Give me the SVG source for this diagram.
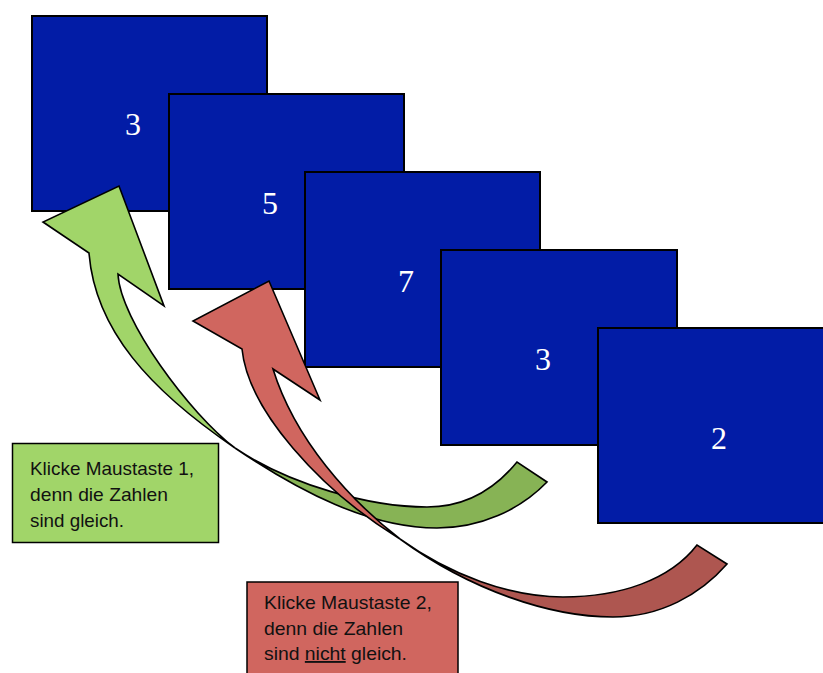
<svg xmlns="http://www.w3.org/2000/svg" width="823" height="673" viewBox="0 0 823 673">
<style>
.card{fill:#021CA6;stroke:#000;stroke-width:2}
.num{font-family:"Liberation Serif","Times New Roman",serif;font-size:32px;fill:#fff;text-anchor:middle}
.edge{stroke:#000;stroke-width:1.6;stroke-linejoin:miter}
.lbl{font-family:"Liberation Sans",Arial,sans-serif;font-size:18.5px;fill:#111}
</style>
<rect width="823" height="673" fill="#fff"/>
<g id="card1"><rect class="card" x="32" y="16" width="235" height="195"/><text class="num" x="133" y="135">3</text></g>
<g id="card2"><rect class="card" x="169" y="94" width="235" height="195"/><text class="num" x="270" y="214">5</text></g>
<g id="card3"><rect class="card" x="305" y="172" width="235" height="195"/><text class="num" x="406" y="292">7</text></g>
<g id="card4"><rect class="card" x="441" y="250" width="236" height="195"/><text class="num" x="543" y="370">3</text></g>
<g id="card5"><rect class="card" x="598" y="328" width="240" height="195"/><text class="num" x="719" y="449">2</text></g>
<g id="connectors">
<g id="arrow-green">
<path class="edge" fill="#87B355" d="M235,448 C300,492 370,528 437,528 C480,528 520,510 547,482 L517,462 C490,495 460,507 427,507 C370,507 290,485 235,448 Z"/>
<path class="edge" fill="#A1D569" d="M89,253 C95,330 150,390 235,448 C190,414 120,320 118,274 L164,306 L119,186 L43,222 Z"/>
</g>
<g id="arrow-red">
<path class="edge" fill="#AE5650" d="M400,539 C470,590 550,617 613,617 C660,617 700,595 727,564 L697,545 C670,580 620,597 563,597 C510,597 450,575 400,539 Z"/>
<path class="edge" fill="#D0665F" d="M242,349 C248,410 320,490 400,539 C350,500 295,440 273,369 L320,400 L269,281 L193,321 Z"/>
</g>
</g>
<g id="note-green">
<rect x="12.5" y="443.5" width="206" height="99" fill="#A1D569" stroke="#000" stroke-width="1.5"/>
<text class="lbl" x="30" y="475" textLength="164" lengthAdjust="spacingAndGlyphs">Klicke Maustaste 1,</text>
<text class="lbl" x="30" y="501" textLength="138" lengthAdjust="spacingAndGlyphs">denn die Zahlen</text>
<text class="lbl" x="30" y="527" textLength="94" lengthAdjust="spacingAndGlyphs">sind gleich.</text>
</g>
<g id="note-red">
<rect x="247" y="582" width="211" height="100" fill="#D0665F" stroke="#000" stroke-width="1.5"/>
<text class="lbl" x="264" y="609" textLength="168" lengthAdjust="spacingAndGlyphs">Klicke Maustaste 2,</text>
<text class="lbl" x="264" y="635" textLength="139" lengthAdjust="spacingAndGlyphs">denn die Zahlen</text>
<text class="lbl" x="264" y="660" textLength="143" lengthAdjust="spacingAndGlyphs">sind <tspan text-decoration="underline">nicht</tspan> gleich.</text>
</g>
</svg>
